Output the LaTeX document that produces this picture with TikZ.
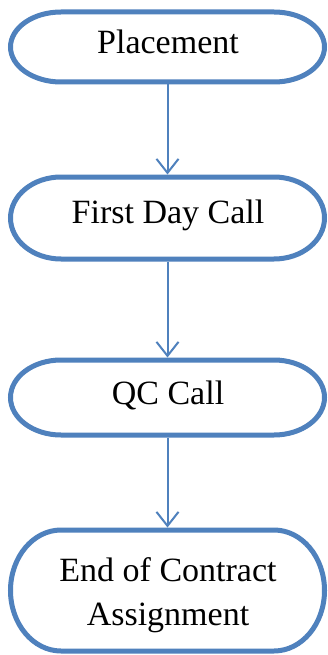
\documentclass[tikz,border=0pt]{standalone}
\usepackage{fontspec}
\setmainfont{Liberation Serif}
\usetikzlibrary{arrows.meta}
\definecolor{flowblue}{HTML}{4F81BD}
\tikzset{
  boxline/.style={draw=flowblue, line width=5pt, fill=white},
  boxanchor/.style={inner sep=0pt, outer sep=2.5pt, minimum width=314pt},
  boxtext/.style={anchor=base, inner sep=0pt, font=\fontsize{34}{44}\selectfont},
  flowarrow/.style={draw=flowblue, line width=2pt,
    -{Straight Barb[length=14pt,width=22pt,line width=2pt]}}
}
% terminator outline: centre x, centre y, height; ends are half ellipses
\newcommand\terminatorpath[3]{%
  \draw[boxline] (#1-106.5,#2-#3/2) -- (#1+106.5,#2-#3/2)
    arc[start angle=90, end angle=-90, x radius=50.5pt, y radius=#3pt/2]
    -- (#1-106.5,#2+#3/2)
    arc[start angle=270, end angle=90, x radius=50.5pt, y radius=#3pt/2]
    -- cycle;}
\begin{document}
\begin{tikzpicture}[x=1pt,y=-1pt]
\fill[white] (0,0) rectangle (328,655);
\useasboundingbox (0,0) rectangle (328,655);

% terminator boxes
\terminatorpath{167.5}{47}{70}
\terminatorpath{167.5}{218}{82}
\terminatorpath{167.5}{397.5}{75}
\terminatorpath{167.5}{590.5}{121}

% named frames of the boxes, used by the connectors
\node[boxanchor, minimum height=70pt] (b1) at (167.5,47) {};
\node[boxanchor, minimum height=82pt] (b2) at (167.5,218) {};
\node[boxanchor, minimum height=75pt] (b3) at (167.5,397.5) {};
\node[boxanchor, minimum height=121pt] (b4) at (167.5,590.5) {};

% labels
\node[boxtext] (t1) at (168,54) {Placement};
\node[boxtext] (t2) at (168,223) {First Day Call};
\node[boxtext] (t3) at (168,404) {QC Call};
\node[boxtext] (t4a) at (168,581) {End of Contract};
\node[boxtext] (t4b) at (168,625) {Assignment};

% connectors
\draw[flowarrow] (b1.south) -- (b2.north);
\draw[flowarrow] (b2.south) -- (b3.north);
\draw[flowarrow] (b3.south) -- (b4.north);
\end{tikzpicture}
\end{document}
